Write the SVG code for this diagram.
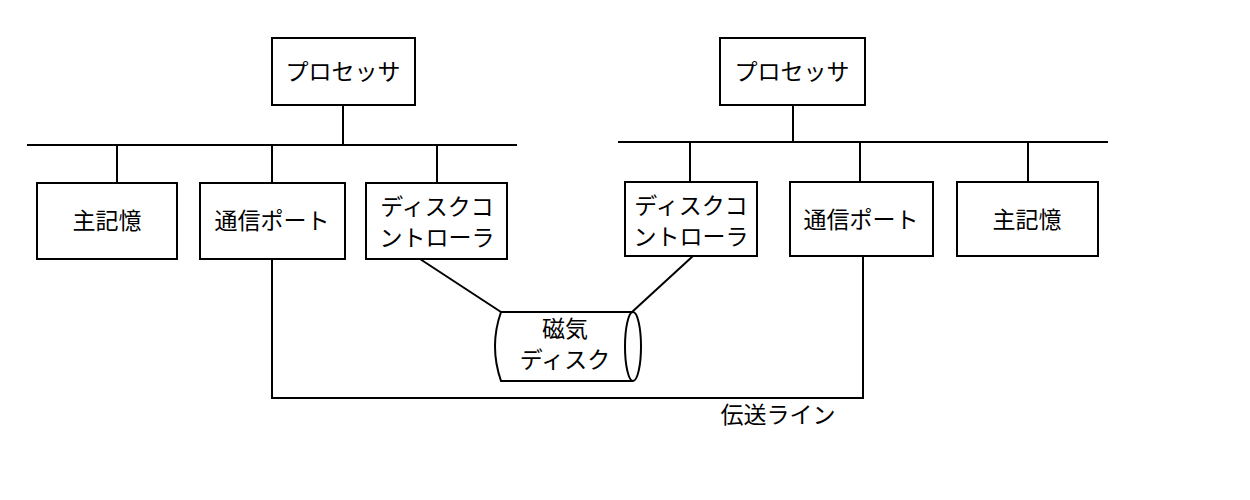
<svg xmlns="http://www.w3.org/2000/svg" width="1250" height="500" viewBox="0 0 1250 500">
<style>
.b{fill:#fff;stroke:#000;stroke-width:2}
.l{fill:none;stroke:#000;stroke-width:2}
text{font-family:"Noto Sans CJK JP",sans-serif;font-size:23px;fill:#000;text-anchor:middle}
</style>
<rect width="1250" height="500" fill="#fff"/>
<g id="connectors" class="l">
<line x1="343" y1="105" x2="343" y2="145"/>
<line x1="27" y1="145" x2="517" y2="145"/>
<line x1="117" y1="145" x2="117" y2="183"/>
<line x1="272" y1="145" x2="272" y2="183"/>
<line x1="437" y1="145" x2="437" y2="183"/>
<line x1="793" y1="105" x2="793" y2="142"/>
<line x1="618" y1="142" x2="1108" y2="142"/>
<line x1="690" y1="142" x2="690" y2="182"/>
<line x1="860" y1="142" x2="860" y2="182"/>
<line x1="1028" y1="142" x2="1028" y2="182"/>
<polyline points="272,259 272,398 863,398 863,256"/>
<line x1="420" y1="259" x2="501" y2="312"/>
<line x1="693" y1="256" x2="632" y2="312"/>
</g>
<g id="p1"><rect class="b" x="272" y="38" width="143" height="67"/><text x="343" y="80">プロセッサ</text></g>
<g id="p2"><rect class="b" x="720" y="38" width="145" height="67"/><text x="792" y="80">プロセッサ</text></g>
<g id="m1"><rect class="b" x="37" y="183" width="140" height="76"/><text x="107" y="229">主記憶</text></g>
<g id="c1"><rect class="b" x="200" y="183" width="145" height="76"/><text x="272" y="229">通信ポート</text></g>
<g id="d1"><rect class="b" x="366" y="183" width="141" height="76"/><text x="437" y="215">ディスクコ</text><text x="437" y="246">ントローラ</text></g>
<g id="d2"><rect class="b" x="625" y="182" width="132" height="74"/><text x="691" y="214">ディスクコ</text><text x="691" y="245">ントローラ</text></g>
<g id="c2"><rect class="b" x="790" y="182" width="143" height="74"/><text x="861" y="228">通信ポート</text></g>
<g id="m2"><rect class="b" x="957" y="182" width="141" height="74"/><text x="1027" y="228">主記憶</text></g>
<g id="disk">
<path class="l" d="M633,312 L501,312 Q489,346 501,381 L633,381"/>
<ellipse class="l" cx="633" cy="346.5" rx="8" ry="34.5"/>
<text x="565" y="337">磁気</text><text x="565" y="368">ディスク</text>
</g>
<g id="label"><text x="778" y="423">伝送ライン</text></g>
</svg>
